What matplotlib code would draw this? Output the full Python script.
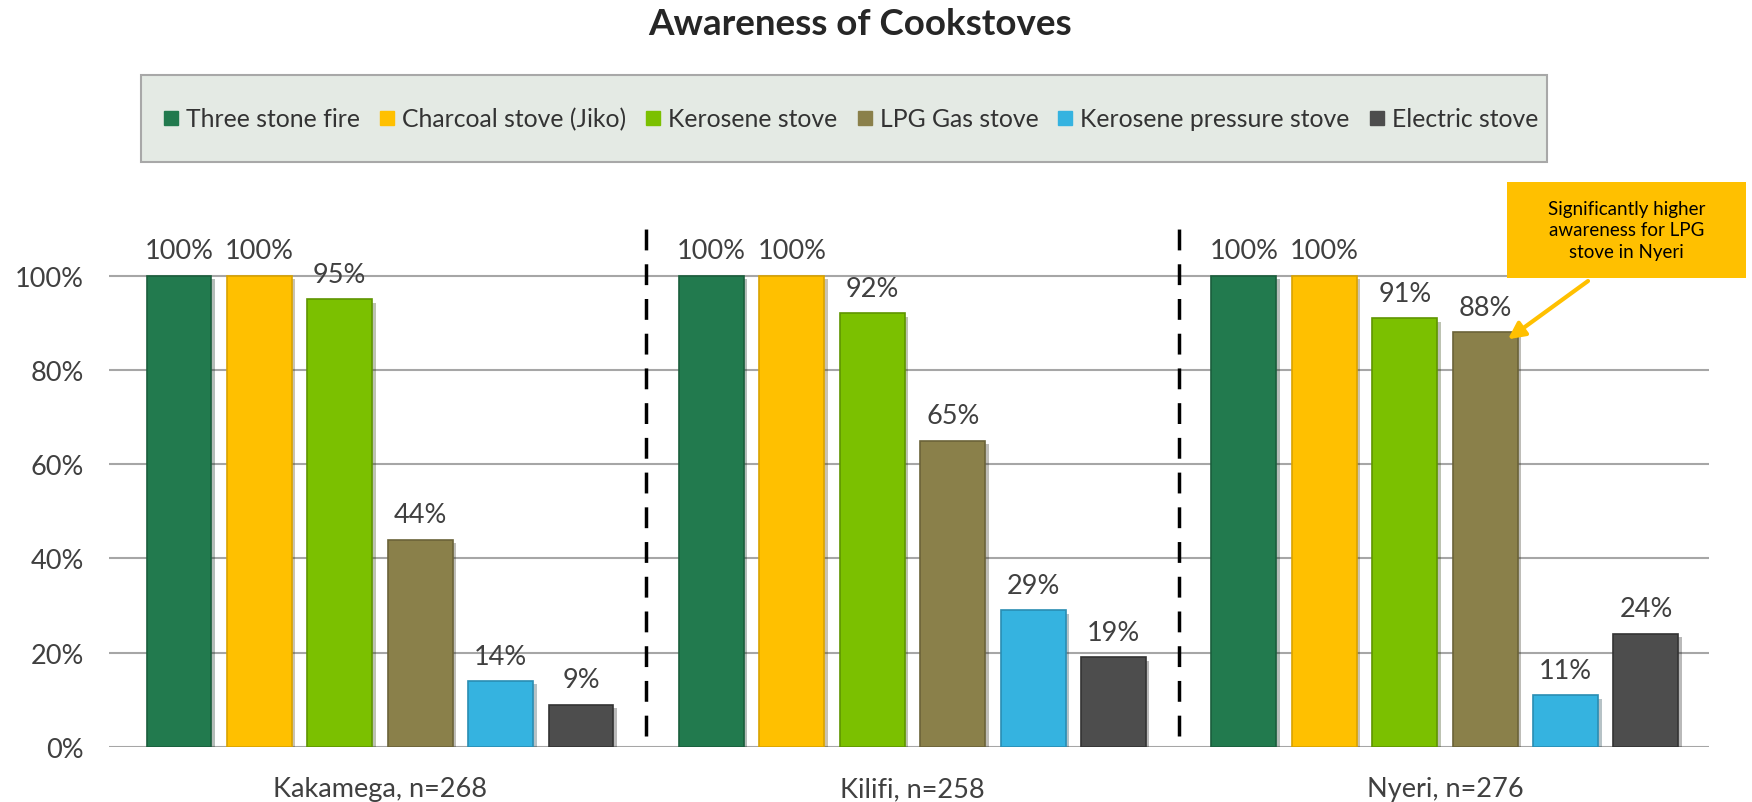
import matplotlib
matplotlib.use("Agg")
import matplotlib.pyplot as plt
import matplotlib.patheffects as pe
from matplotlib.lines import Line2D
from matplotlib.patches import Rectangle

plt.rcParams['font.family'] = ['Lato', 'DejaVu Sans']

groups = ["Kakamega, n=268", "Kilifi, n=258", "Nyeri, n=276"]
stoves = ["Three stone fire", "Charcoal stove (Jiko)", "Kerosene stove",
          "LPG Gas stove", "Kerosene pressure stove", "Electric stove"]
three_stone = [100, 100, 100]
charcoal = [100, 100, 100]
kerosene = [95, 92, 91]
lpg = [44, 65, 88]
pressure = [14, 29, 11]
electric = [9, 19, 24]
series = [three_stone, charcoal, kerosene, lpg, pressure, electric]

colors = ["#227a4e", "#ffc000", "#7bc000", "#8a804a", "#35b3e0", "#4d4d4d"]
edges = ["#1a5e3c", "#d9a300", "#5f9500", "#6b6339", "#2a8db3", "#333333"]
txt = "#404040"

fig = plt.figure(figsize=(17.52, 8.03), dpi=100)
ax = fig.add_axes([0.0622, 0.0685, 0.9133, 0.675])

pitch = 0.151
width = 0.122
xs = list(range(len(groups)))

for i, vals in enumerate(series):
    off = (i - 2.5) * pitch
    pos = [x + off for x in xs]
    bars = ax.bar(pos, vals, width, color=colors[i], edgecolor=edges[i],
                  linewidth=1.2, zorder=3)
    for b in bars:
        b.set_path_effects([pe.SimplePatchShadow(offset=(2.5, -2.5), alpha=0.3),
                            pe.Normal()])
    for p, v in zip(pos, vals):
        ax.annotate(f"{v}%", (p, v), xytext=(0, 9), textcoords="offset points",
                    ha="center", va="bottom", fontsize=19.5, color=txt)

# dashed separators between regions
ax.vlines([0.5, 1.5], 2.3, 111.5, colors="black", linewidth=2.5,
          linestyles=(0, (6, 4)), clip_on=False, zorder=4)

ax.set_xlim(-0.509, 2.496)
ax.set_ylim(0, 115)
ax.set_yticks([0, 20, 40, 60, 80, 100])
ax.set_yticklabels([f"{t}%" for t in [0, 20, 40, 60, 80, 100]])
ax.set_xticks(xs)
ax.set_xticklabels(groups)
ax.tick_params(axis="y", length=0, pad=18, labelsize=19.5, labelcolor=txt)
ax.tick_params(axis="x", length=0, pad=21, labelsize=19.5, labelcolor=txt)
ax.yaxis.grid(True, color="#a6a6a6", linewidth=1.5, zorder=0)
ax.set_axisbelow(True)
for s in ax.spines.values():
    s.set_visible(False)

fig.text(0.491, 0.969, "Awareness of Cookstoves", ha="center", va="center",
         fontsize=26.5, fontweight="bold", color="#262626")

# legend panel
fig.add_artist(Rectangle((0.0805, 0.797), 0.8025, 0.108, transform=fig.transFigure,
                         facecolor="#e4eae4", edgecolor="#a8a8a8", linewidth=1.5))
handles = [Line2D([], [], marker="s", linestyle="none", markersize=9.5,
                  markerfacecolor=c, markeredgecolor=c) for c in colors]
fig.legend(handles, stoves, loc="center", bbox_to_anchor=(0.4857, 0.851),
           ncol=6, frameon=False, fontsize=17.8, handlelength=0.6,
           handletextpad=0.3, columnspacing=0.8, labelcolor="#333333")

# callout
fig.add_artist(Rectangle((0.8602, 0.6526), 0.1364, 0.1196, transform=fig.transFigure,
                         facecolor="#ffc000", edgecolor="none"))
fig.text(0.9284, 0.7124, "Significantly higher\nawareness for LPG\nstove in Nyeri",
         ha="center", va="center", fontsize=13.5, linespacing=1.35, color="black")
lpg_x = 2 + 0.5 * pitch
ax.annotate("", xy=(lpg_x + width * 0.35, lpg[2] - 1.5), xycoords="data",
            xytext=(0.9064, 0.6488), textcoords="figure fraction",
            arrowprops=dict(arrowstyle="-|>", color="#ffc000", lw=3,
                            mutation_scale=25, shrinkA=0, shrinkB=0),
            annotation_clip=False, zorder=6)

fig.savefig("out.png", dpi=100)
